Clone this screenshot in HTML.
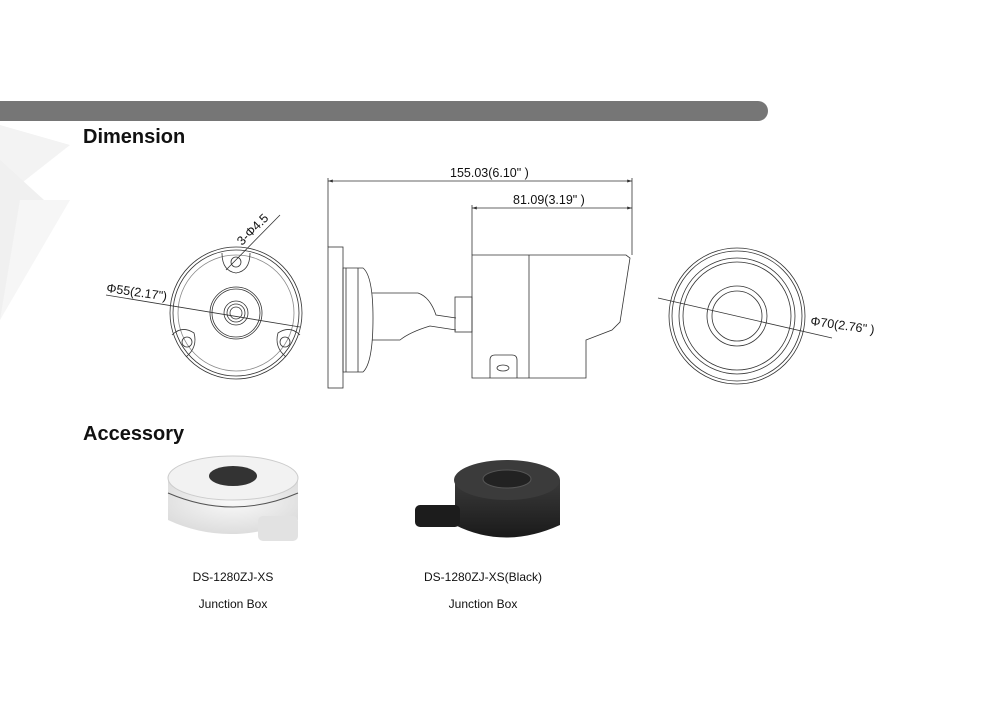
<!DOCTYPE html>
<html><head><style>
body{margin:0;background:#fff;width:999px;height:707px;overflow:hidden;font-family:"Liberation Sans",sans-serif}
</style></head><body>
<svg width="999" height="707" viewBox="0 0 999 707" xmlns="http://www.w3.org/2000/svg">
<defs>
<radialGradient id="wg" cx="0.5" cy="0.4" r="0.7"><stop offset="0" stop-color="#fafafa"/><stop offset="1" stop-color="#d8d8d8"/></radialGradient>
<linearGradient id="bg" x1="0" x2="0" y1="0" y2="1"><stop offset="0" stop-color="#3a3a3a"/><stop offset="1" stop-color="#1a1a1a"/></linearGradient>
<marker id="ar" viewBox="0 0 10 10" refX="10" refY="5" markerWidth="6" markerHeight="6" orient="auto-start-reverse"><path d="M0,2 L10,5 L0,8 Z" fill="#333"/></marker>
</defs>
<!-- background decorations -->
<polygon points="0,125 70,145 0,200" fill="#f3f3f3"/>
<polygon points="0,160 55,210 0,320" fill="#f0f0f0"/>
<polygon points="20,200 70,200 0,320" fill="#f6f6f6"/>
<!-- header bar -->
<path d="M0,101 H758 a10,10 0 0 1 0,20 H0 Z" fill="#767676"/>
<text x="83" y="143" font-size="20" font-weight="bold" fill="#111">Dimension</text>
<text x="83" y="440" font-size="20" font-weight="bold" fill="#111">Accessory</text>

<g fill="none" stroke="#333" stroke-width="0.8">
<!-- left front view -->
<circle cx="236" cy="313" r="66"/>
<circle cx="236" cy="313" r="63"/>
<circle cx="236" cy="313" r="58" stroke="#888"/>
<circle cx="236" cy="313" r="26"/>
<circle cx="236" cy="313" r="24"/>
<circle cx="236" cy="313" r="12"/>
<circle cx="236" cy="313" r="9"/>
<circle cx="236" cy="313" r="6"/>
<path d="M222,253 q0,18 14,20 q14,-2 14,-20"/>
<circle cx="236" cy="262" r="5"/>
<path d="M172,335 q10,-10 22,-2 q4,14 -8,24"/>
<circle cx="187" cy="342" r="5"/>
<path d="M300,335 q-10,-10 -22,-2 q-4,14 8,24"/>
<circle cx="285" cy="342" r="5"/>
<line x1="106" y1="295" x2="300" y2="327"/>
<line x1="226" y1="270" x2="280" y2="215"/>
<!-- side view dims -->
<line x1="328" y1="181" x2="632" y2="181" marker-start="url(#ar)" marker-end="url(#ar)"/>
<line x1="472" y1="208" x2="632" y2="208" marker-start="url(#ar)" marker-end="url(#ar)"/>
<line x1="328" y1="178" x2="328" y2="247"/>
<line x1="632" y1="178" x2="632" y2="255"/>
<line x1="472" y1="205" x2="472" y2="255"/>
<!-- wall plate -->
<rect x="328" y="247" width="15" height="141"/>
<path d="M343,268 H363 q10,8 10,50 q0,45 -10,54 H343 Z"/>
<path d="M346,268 V372 M358,268 V372"/>
<path d="M372,293 H418 q12,4 18,22 L456,318 M372,340 H400 q10,-8 30,-14 L456,330"/>
<rect x="455" y="297" width="17" height="35"/>
<!-- body -->
<path d="M472,255 H626 L630,258 L620,322 L612,330 L586,340 V378 H472 Z"/>
<line x1="529" y1="255" x2="529" y2="378"/>
<path d="M490,378 V360 q0,-5 5,-5 H512 q5,0 5,5 V378"/>
<ellipse cx="503" cy="368" rx="6" ry="3"/>
<!-- right view -->
<circle cx="737" cy="316" r="68"/>
<circle cx="737" cy="316" r="65"/>
<circle cx="737" cy="316" r="58"/>
<circle cx="737" cy="316" r="54"/>
<circle cx="737" cy="316" r="30"/>
<circle cx="737" cy="316" r="25"/>
<line x1="658" y1="298" x2="832" y2="338"/>
</g>
<g font-size="12.5" fill="#111">
<text x="450" y="177">155.03(6.10" )</text>
<text x="513" y="204">81.09(3.19" )</text>
<text x="106" y="292" transform="rotate(8 106 292)">Φ55(2.17")</text>
<text x="242" y="246" transform="rotate(-45 242 246)">3-Φ4.5</text>
<text x="810" y="325" transform="rotate(8 810 325)">Φ70(2.76" )</text>
</g>
<!-- white junction box -->
<path d="M168,478 V520 q60,28 130,0 V478 Z" fill="url(#wg)"/>
<ellipse cx="233" cy="478" rx="65" ry="22" fill="#f2f2f2" stroke="#ccc"/>
<ellipse cx="233" cy="476" rx="24" ry="10" fill="#333"/>
<path d="M168,493 q65,28 130,0" stroke="#555" fill="none"/>
<rect x="258" y="516" width="40" height="25" rx="5" fill="#e2e2e2"/>
<!-- black junction box -->
<path d="M455,480 V525 q50,25 105,0 V480 Z" fill="url(#bg)"/>
<ellipse cx="507" cy="480" rx="53" ry="20" fill="#3b3b3b"/>
<ellipse cx="507" cy="479" rx="24" ry="9" fill="#222" stroke="#555"/>
<rect x="415" y="505" width="45" height="22" rx="5" fill="#1c1c1c"/>
<g font-size="12" fill="#111" text-anchor="middle">
<text x="233" y="581">DS-1280ZJ-XS</text>
<text x="233" y="608">Junction Box</text>
<text x="483" y="581">DS-1280ZJ-XS(Black)</text>
<text x="483" y="608">Junction Box</text>
</g>
</svg>
</body></html>
